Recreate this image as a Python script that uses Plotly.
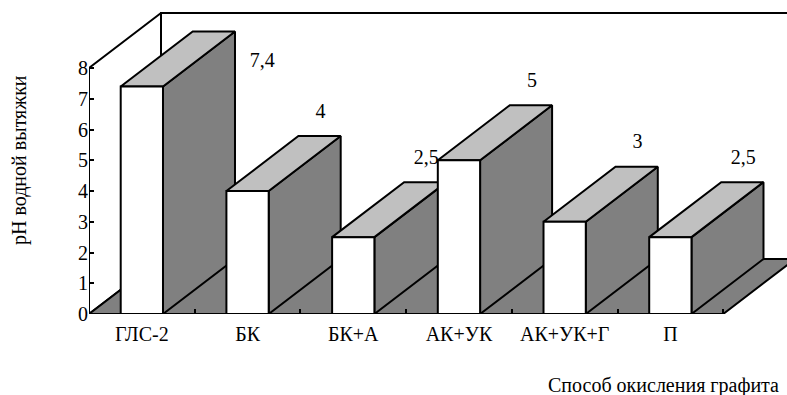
import plotly.graph_objects as go

# ---------------- data ----------------
categories = ["ГЛС-2", "БК", "БК+А", "АК+УК", "АК+УК+Г", "П"]
ph_values = [7.4, 4, 2.5, 5, 3, 2.5]
value_labels = ["7,4", "4", "2,5", "5", "3", "2,5"]
y_ticks = [0, 1, 2, 3, 4, 5, 6, 7, 8]
x_title = "Способ окисления графита"
y_title = "pH водной вытяжки"

# ---------------- layout geometry / style ----------------
W, H = 787, 395
ML, MR, MT, MB = 89, 0, 5, 81
PX_PER_CAT = 105.7
PX_PER_UNIT = 30.75
DEPTH_PX = (72, 55)
BAR_W = 0.4
FONT = "Times New Roman"
FS = 20
C_FRONT, C_TOP, C_SIDE, C_FLOOR = "#ffffff", "#c0c0c0", "#808080", "#808080"
LW = 2

n = len(categories)
y_max = max(y_ticks)
dx = DEPTH_PX[0] / PX_PER_CAT
dy = DEPTH_PX[1] / PX_PER_UNIT
plot_w = W - ML - MR
plot_h = H - MT - MB
x_range = [0, plot_w / PX_PER_CAT]
y_range = [0, plot_h / PX_PER_UNIT]


def px_to_paper_x(px):
    return (px - ML) / plot_w


def px_to_paper_y(py):
    return (H - MB - py) / plot_h


def poly(xs, ys, fill):
    return go.Scatter(
        x=list(xs) + [xs[0]], y=list(ys) + [ys[0]],
        mode="lines", fill="toself", fillcolor=fill,
        line=dict(color="black", width=LW),
        hoverinfo="skip", showlegend=False,
    )


fig = go.Figure()

# back wall
fig.add_trace(poly([dx, dx, n + dx, n + dx],
                   [dy, y_max + dy, y_max + dy, dy], "white"))
# left wall
fig.add_trace(poly([0, 0, dx, dx], [0, y_max, y_max + dy, dy], "white"))
# floor
fig.add_trace(poly([0, n, n + dx, dx], [0, 0, dy, dy], C_FLOOR))

# bars (painter's order: left to right; side, top, front)
for i, v in enumerate(ph_values):
    c = i + 0.5
    x0, x1 = c - BAR_W / 2, c + BAR_W / 2
    fig.add_trace(poly([x1, x1 + dx, x1 + dx, x1], [0, dy, v + dy, v], C_SIDE))
    fig.add_trace(poly([x0, x1, x1 + dx, x0 + dx], [v, v, v + dy, v + dy], C_TOP))
    fig.add_trace(poly([x0, x0, x1, x1], [0, v, v, 0], C_FRONT))

# value labels
LBL_DX, LBL_DY = 0.69, 2.55
ALT_DX, ALT_DY = 1.14, 0.8
lx, ly = [], []
for i, v in enumerate(ph_values):
    c = i + 0.5
    if v + LBL_DY > y_max + dy:
        lx.append(c + ALT_DX)
        ly.append(v + ALT_DY)
    else:
        lx.append(c + LBL_DX)
        ly.append(v + LBL_DY)
fig.add_trace(go.Scatter(
    x=lx, y=ly, mode="text", text=value_labels,
    textposition="middle center",
    textfont=dict(family=FONT, size=FS, color="black"),
    hoverinfo="skip", showlegend=False, xaxis="x2", yaxis="y",
))

fig.update_layout(
    width=W, height=H,
    margin=dict(l=ML, r=MR, t=MT, b=MB, pad=0),
    paper_bgcolor="white", plot_bgcolor="white",
    showlegend=False,
    font=dict(family=FONT, size=FS, color="black"),
    xaxis=dict(
        range=x_range, showgrid=False, zeroline=False, showline=False,
        tickmode="array", tickvals=[i + 0.5 for i in range(n)],
        ticktext=categories, ticks="", tickfont=dict(family=FONT, size=FS),
        ticklabelstandoff=6, fixedrange=True,
    ),
    xaxis2=dict(
        overlaying="x", matches="x", anchor="y", side="bottom",
        range=x_range, showgrid=False, zeroline=False, showline=False,
        tickmode="array", tickvals=list(range(1, n + 1)),
        ticks="inside", ticklen=5, tickwidth=LW, tickcolor="black",
        showticklabels=False, fixedrange=True,
    ),
    yaxis=dict(
        range=y_range, showgrid=False, zeroline=False, showline=False,
        tickmode="array", tickvals=y_ticks, ticktext=[str(t) for t in y_ticks],
        ticks="inside", ticklen=5, tickwidth=LW, tickcolor="black",
        tickfont=dict(family=FONT, size=FS), fixedrange=True,
    ),
    annotations=[
        dict(text=y_title, textangle=-90, showarrow=False,
             xref="paper", yref="paper", x=px_to_paper_x(20), y=px_to_paper_y(160),
             xanchor="center", yanchor="middle",
             font=dict(family=FONT, size=FS)),
        dict(text=x_title, showarrow=False,
             xref="paper", yref="paper", x=px_to_paper_x(781), y=px_to_paper_y(385),
             xanchor="right", yanchor="middle",
             font=dict(family=FONT, size=FS)),
    ],
)

fig.write_html(
    "out.html",
    config={"displayModeBar": False},
    post_script="document.body.style.margin='0';document.body.style.overflow='hidden';",
)
